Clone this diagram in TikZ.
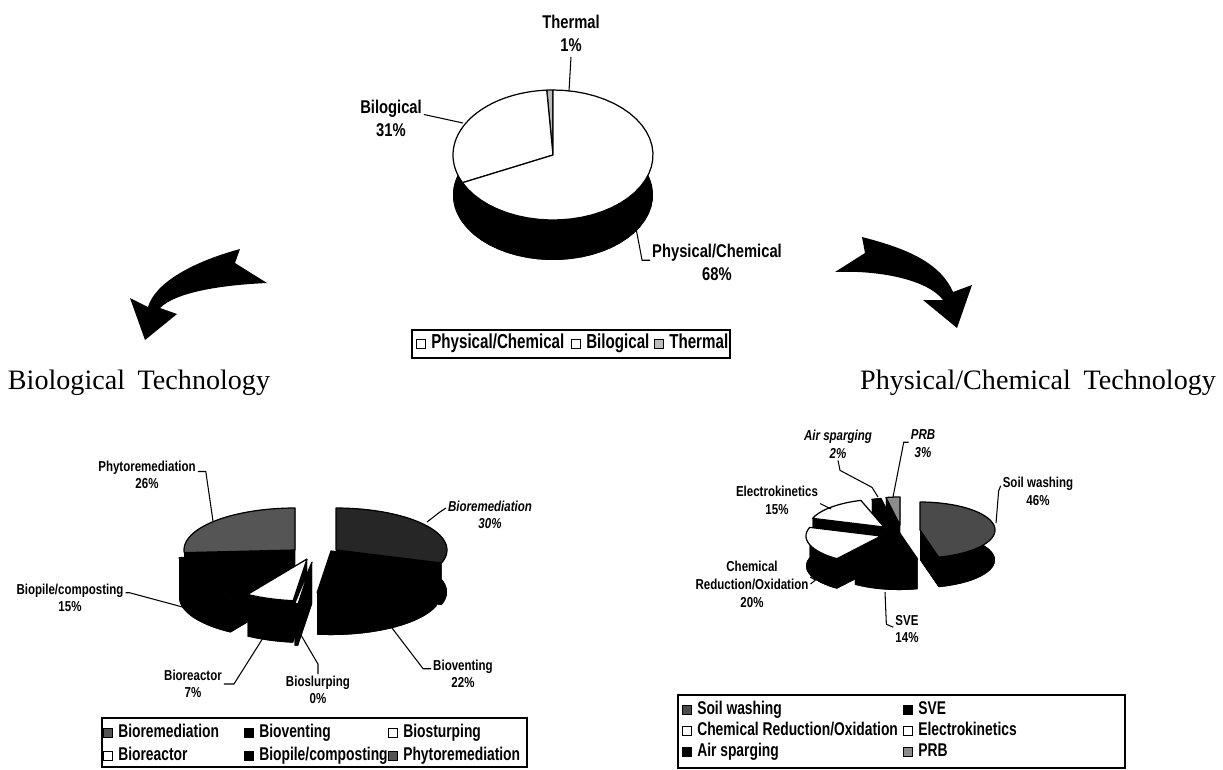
\documentclass[tikz,border=0pt]{standalone}
\usepackage{fontspec}
\usepackage{xcolor}
\usepackage{tikz}
\usetikzlibrary{positioning}
\setmainfont{Liberation Serif}
\newfontfamily\lblfont{Liberation Sans}[FakeStretch=0.8]
\newfontfamily\legfont{Liberation Sans}[FakeStretch=0.75]
\definecolor{thermgray}{HTML}{BBBBBB}
\definecolor{phytogray}{HTML}{555555}
\definecolor{bioremgray}{HTML}{262626}
\definecolor{soilgray}{HTML}{4A4A4A}
\definecolor{prbgray}{HTML}{8C8C8C}
\tikzset{
  toplbl/.style={font=\lblfont\bfseries\fontsize{10.5pt}{13pt}\selectfont, align=center, inner sep=1pt},
  biolbl/.style={font=\lblfont\bfseries\fontsize{8.2pt}{9.7pt}\selectfont, align=center, inner sep=1pt},
  pclbl/.style={font=\lblfont\bfseries\fontsize{8.2pt}{10.2pt}\selectfont, align=center, inner sep=1pt},
  leader/.style={line width=0.6pt},
  legmark/.style={draw, line width=0.5pt, minimum size=0.18cm, inner sep=0pt},
  legtext/.style={font=\legfont\bfseries\fontsize{10.5pt}{12pt}\selectfont, inner sep=0pt, text height=1.5ex, text depth=0.3ex},
  legbox/.style={line width=0.8pt},
  techtitle/.style={font=\fontsize{16pt}{19pt}\selectfont, inner sep=0pt},
}
% cx, cy, rx, ry, depth, from, to, top colour
\newcommand{\pieslice}[8]{%
  \fill[black] (#1,#2+#5) -- plot[domain=#6:#7, samples=40] ({#1+#3*cos(\x)}, {#2+#5-#4*sin(\x)}) -- cycle;%
  \fill[black] (#1,#2) -- ({#1+#3*cos(#6)}, {#2-#4*sin(#6)}) -- ++(0,#5) -- (#1,#2+#5) -- cycle;%
  \fill[black] (#1,#2) -- ({#1+#3*cos(#7)}, {#2-#4*sin(#7)}) -- ++(0,#5) -- (#1,#2+#5) -- cycle;%
  \fill[black] plot[domain=#6:#7, samples=40] ({#1+#3*cos(\x)}, {#2-#4*sin(\x)}) -- plot[domain=#7:#6, samples=40] ({#1+#3*cos(\x)}, {#2+#5-#4*sin(\x)}) -- cycle;%
  \filldraw[fill=#8, draw=black, line width=0.7pt, line join=round] (#1,#2) -- plot[domain=#6:#7, samples=40] ({#1+#3*cos(\x)}, {#2-#4*sin(\x)}) -- cycle;%
}

\begin{document}
\begin{tikzpicture}[x=0.02cm, y=-0.02cm]%
\useasboundingbox (0,0) rectangle (1223,769);%
% top pie
\pieslice{553}{155}{100}{65}{40}{90}{93.6}{thermgray}%
\pieslice{553}{155}{100}{65}{40}{93.6}{205.2}{white}%
\pieslice{553}{155}{100}{65}{40}{205.2}{450}{white}%
\node[toplbl] (thermlbl) at (571,33) {Thermal\\1\%};%
\node[toplbl] (bilolbl) at (391,118) {Bilogical\\31\%};%
\node[toplbl] (physlbl) at (717,262) {Physical/Chemical\\68\%};%
\coordinate (thermpt) at (569,91);%
\coordinate (bilopt) at (463,123);%
\coordinate (physpt) at (635,223);%
\draw[leader] ([yshift=-2pt]thermlbl.south) -- (thermpt);%
\draw[leader] ([yshift=2pt]bilolbl.east) -- (bilopt);%
\draw[leader] ([yshift=1pt]physlbl.west) -- ++(-8,0) -- (physpt);%
\draw[legbox] (412,330) rectangle (730,358);%
\node[legmark, fill=white] (topmk1) at (421,344) {};%
\node[legtext, font=\legfont\bfseries\fontsize{11.5pt}{13pt}\selectfont, right=0.1cm of topmk1] (toptx1) {Physical/Chemical};%
\node[legmark, fill=white] (topmk2) at (576,344) {};%
\node[legtext, font=\legfont\bfseries\fontsize{11.5pt}{13pt}\selectfont, right=0.1cm of topmk2] (toptx2) {Bilogical};%
\node[legmark, fill=thermgray] (topmk3) at (659,344) {};%
\node[legtext, font=\legfont\bfseries\fontsize{11.5pt}{13pt}\selectfont, right=0.1cm of topmk3] (toptx3) {Thermal};%
% arrows
\fill (240,249) -- (235,263) -- (267,283) .. controls (222,285) and (176,292) .. (160,308) -- (177,314) -- (145,340) -- (130,298) -- (148,307) .. controls (155,283) and (192,262) .. cycle;%
\fill (862,237) -- (865,253) -- (835,272) .. controls (880,270) and (928,280) .. (943,300) -- (923,300) -- (957,328) -- (972,285) -- (953,292) .. controls (940,262) and (905,248) .. cycle;%
\node[techtitle] (biotitle) at (139,383) {Biological\hspace{0.45em}Technology};%
\node[techtitle] (pctitle) at (1038,383) {Physical/Chemical\hspace{0.45em}Technology};%
% biological pie
\pieslice{295}{550}{111}{42}{42}{90}{183.6}{phytogray}%
\pieslice{336}{550}{111}{42}{42}{-18}{90}{bioremgray}%
\pieslice{290}{555}{111}{42}{42}{183.6}{237.6}{black}%
\pieslice{331}{551}{111}{42}{42}{-97.2}{-18}{black}%
\pieslice{307}{559}{111}{42}{42}{237.6}{262.8}{white}%
\pieslice{312}{562}{111}{42}{42}{261}{262.8}{white}%
\node[biolbl] (phytolbl) at (147,475) {Phytoremediation\\26\%};%
\node[biolbl, font=\lblfont\bfseries\itshape\fontsize{8.2pt}{9.7pt}\selectfont] (bioremlbl) at (490,515) {Bioremediation\\30\%};%
\node[biolbl] (biopilelbl) at (70,598) {Biopile/composting\\15\%};%
\node[biolbl] (bioreaclbl) at (193,684) {Bioreactor\\7\%};%
\node[biolbl] (bioslurplbl) at (318,690) {Bioslurping\\0\%};%
\node[biolbl] (bioventlbl) at (463,674) {Bioventing\\22\%};%
\coordinate (phytopt) at (213,521);%
\coordinate (bioremtpt) at (427,522);%
\coordinate (biopilept) at (190,609);%
\coordinate (bioreacpt) at (263,638);%
\coordinate (bioslurppt) at (298,630);%
\coordinate (bioventpt) at (392,628);%
\draw[leader] ([yshift=2pt]phytolbl.east) -- ++(8,0) -- (phytopt);%
\draw[leader] ([yshift=4pt]bioremlbl.west) -- ++(-6,4) -- (bioremtpt);%
\draw[leader] ([yshift=3pt]biopilelbl.east) -- ++(4,0) -- (biopilept);%
\draw[leader] ([yshift=0pt]bioreaclbl.east) -- ++(10,0) -- (bioreacpt);%
\draw[leader] (bioslurplbl.north) -- ++(0,-10) -- (bioslurppt);%
\draw[leader] ([yshift=3pt]bioventlbl.west) -- ++(-8,0) -- (bioventpt);%
\draw[legbox] (102,718) rectangle (527,767);%
\node[legmark, fill=phytogray] (biomk1) at (108,733) {};%
\node[legtext, right=0.1cm of biomk1] (biotx1) {Bioremediation};%
\node[legmark, fill=black] (biomk2) at (249,733) {};%
\node[legtext, right=0.1cm of biomk2] (biotx2) {Bioventing};%
\node[legmark, fill=white] (biomk3) at (393,733) {};%
\node[legtext, right=0.1cm of biomk3] (biotx3) {Biosturping};%
\node[legmark, fill=white] (biomk4) at (108,756) {};%
\node[legtext, right=0.1cm of biomk4] (biotx4) {Bioreactor};%
\node[legmark, fill=black] (biomk5) at (249,756) {};%
\node[legtext, right=0.1cm of biomk5] (biotx5) {Biopile/composting};%
\node[legmark, fill=phytogray] (biomk6) at (393,756) {};%
\node[legtext, right=0.1cm of biomk6] (biotx6) {Phytoremediation};%
% physical/chemical pie
\pieslice{900}{525}{75}{28}{30}{90}{100.8}{prbgray}%
\pieslice{895}{526}{75}{28}{30}{100.8}{108}{black}%
\pieslice{884}{527}{75}{28}{30}{108}{162}{white}%
\pieslice{920}{530}{75}{28}{30}{-75.6}{90}{soilgray}%
\pieslice{881}{536}{75}{28}{30}{162}{234}{white}%
\pieslice{899}{532}{75}{28}{30}{234}{284.4}{black}%
\node[pclbl, font=\lblfont\bfseries\itshape\fontsize{8.2pt}{10.2pt}\selectfont] (airlbl) at (838,444) {Air sparging\\2\%};%
\node[pclbl, font=\lblfont\bfseries\itshape\fontsize{8.2pt}{10.2pt}\selectfont] (prblbl) at (923,444) {PRB\\3\%};%
\node[pclbl] (electrolbl) at (777,500) {Electrokinetics\\15\%};%
\node[pclbl] (chemlbl) at (752,584) {Chemical\\Reduction/Oxidation\\20\%};%
\node[pclbl] (svelbl) at (907,629) {SVE\\14\%};%
\node[pclbl] (soillbl) at (1038,491) {Soil washing\\46\%};%
\coordinate (airpt) at (878,497);%
\coordinate (prbpt) at (893,497);%
\coordinate (electropt) at (831,509);%
\coordinate (chempt) at (810,577);%
\coordinate (svept) at (885,592);%
\coordinate (soilpt) at (996,523);%
\draw[leader] (airlbl.south) -- ++(2,10) -- ++(32,17) -- (airpt);%
\draw[leader] ([yshift=1pt]prblbl.west) -- ++(-5,0) -- (prbpt);%
\draw[leader] ([yshift=-2pt]electrolbl.east) -- (electropt);%
\draw[leader] (chemlbl.east) -- ++(5,-4) -- (chempt);%
\draw[leader] ([yshift=1pt]svelbl.west) -- ++(-7,-3) -- (svept);%
\draw[leader] ([yshift=3pt]soillbl.west) -- ++(-2,5) -- (soilpt);%
\draw[legbox] (678,695) rectangle (1125,768);%
\node[legmark, fill=soilgray] (pcmk1) at (687,710) {};%
\node[legtext, right=0.1cm of pcmk1] (pctx1) {Soil washing};%
\node[legmark, fill=black] (pcmk2) at (908,710) {};%
\node[legtext, right=0.1cm of pcmk2] (pctx2) {SVE};%
\node[legmark, fill=white] (pcmk3) at (687,731) {};%
\node[legtext, right=0.1cm of pcmk3] (pctx3) {Chemical Reduction/Oxidation};%
\node[legmark, fill=white] (pcmk4) at (908,731) {};%
\node[legtext, right=0.1cm of pcmk4] (pctx4) {Electrokinetics};%
\node[legmark, fill=black] (pcmk5) at (687,752) {};%
\node[legtext, right=0.1cm of pcmk5] (pctx5) {Air sparging};%
\node[legmark, fill=prbgray] (pcmk6) at (908,752) {};%
\node[legtext, right=0.1cm of pcmk6] (pctx6) {PRB};%
\end{tikzpicture}
\end{document}
